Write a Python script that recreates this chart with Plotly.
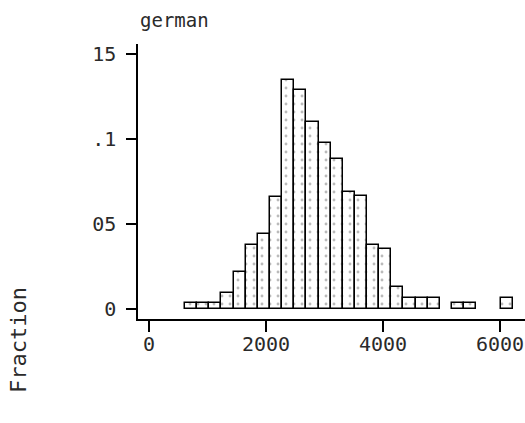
import plotly.graph_objects as go

# Histogram of "german": 27 equal-width bins
bin_start = 615.0
bin_width = 207.5
fractions = [0.0033, 0.0033, 0.0033, 0.0096, 0.022, 0.0376, 0.044, 0.066,
             0.135, 0.129, 0.110, 0.0975, 0.088, 0.069, 0.0665, 0.0376,
             0.035, 0.0128, 0.0066, 0.0066, 0.0066, 0.0, 0.0033, 0.0033,
             0.0, 0.0, 0.0066]
x_ticks = [0, 2000, 4000, 6000]
x_ticktext = ["0", "2000", "4000", "6000"]
y_ticks = [0, 0.05, 0.1, 0.15]
y_ticktext = ["0", "05", ".1", "15"]
title_text = "german"
ytitle_text = "Fraction"

centers = [bin_start + bin_width * (i + 0.5) for i in range(len(fractions))]
xs = [c for c, f in zip(centers, fractions) if f > 0]
ys = [f for f in fractions if f > 0]

FONT = "DejaVu Sans Mono"
TXT = "#2a2a2a"

fig = go.Figure(go.Bar(
    x=xs, y=ys, width=bin_width,
    marker=dict(color="white",
                line=dict(color="black", width=1.5),
                pattern=dict(shape=".", fgcolor="#777777", bgcolor="white",
                             size=8, solidity=0.1)),
    hoverinfo="skip",
))

fig.update_layout(
    width=525, height=423,
    margin=dict(l=138, r=0, t=44, b=104, pad=0),
    plot_bgcolor="white", paper_bgcolor="white",
    showlegend=False,
    bargap=0,
    font=dict(family=FONT, size=20, color=TXT),
)
fig.update_xaxes(
    range=[-188, 6427], showgrid=False, zeroline=False,
    showline=True, linecolor="black", linewidth=1.5,
    ticks="outside", ticklen=11, tickwidth=1.5, tickcolor="black",
    tickvals=x_ticks, ticktext=x_ticktext, ticklabelstandoff=-5,
    tickfont=dict(family=FONT, size=20, color=TXT),
)
fig.update_yaxes(
    range=[-0.0059, 0.1559], showgrid=False, zeroline=False,
    showline=True, linecolor="black", linewidth=1.5,
    ticks="outside", ticklen=10, tickwidth=1.5, tickcolor="black",
    tickvals=y_ticks, ticktext=y_ticktext, ticklabelstandoff=6,
    tickfont=dict(family=FONT, size=20, color=TXT),
)
fig.add_annotation(text=title_text, xref="paper", yref="paper",
                   x=0.0, y=1.087, xanchor="left", yanchor="middle",
                   showarrow=False, font=dict(family=FONT, size=19, color=TXT))
fig.add_annotation(text=ytitle_text, xref="paper", yref="paper",
                   x=(18 - 138) / 387, y=-0.0764, xanchor="center",
                   yanchor="middle", textangle=-90, showarrow=False,
                   font=dict(family=FONT, size=22, color=TXT))

fig.write_html(
    "out.html",
    config={"displayModeBar": False},
    post_script="document.body.style.margin='0';"
                "document.body.style.overflow='hidden';",
)
